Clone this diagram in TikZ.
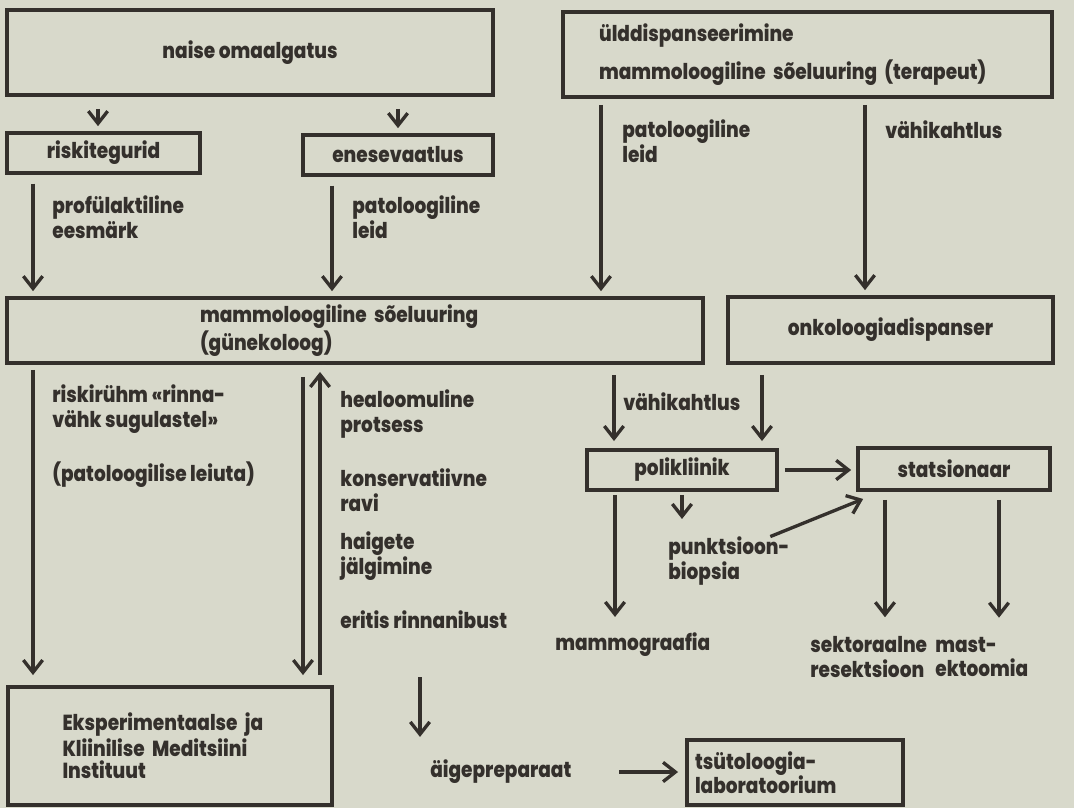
\documentclass[tikz,border=0pt]{standalone}
\usepackage{fontspec}
\setmainfont{Poppins}[BoldFont={Poppins ExtraBold}, BoldFeatures={FakeStretch=0.85}]
\usetikzlibrary{arrows.meta}
\definecolor{paper}{RGB}{216,217,203}
\definecolor{ink}{RGB}{52,48,44}

\begin{document}
\begin{tikzpicture}[x=0.02cm, y=-0.02cm,
    box/.style={draw=ink, line width=2.2pt, text=ink, inner sep=0pt, align=center},
    lbl/.style={text=ink, inner sep=0pt, anchor=west, align=left},
    arr/.style={-{Straight Barb[length=7pt,width=11pt]}, draw=ink, line width=1.9pt},
    font=\bfseries\fontsize{12.4}{14}\selectfont]
  \fill[paper] (0,0) rectangle (1074,808);
  \useasboundingbox (0,0) rectangle (1074,808);

  % boxes
  \node[box, minimum width=9.72cm, minimum height=1.7cm] (naise) at (250,52.5) {naise omaalgatus};
  \node[box, minimum width=3.86cm, minimum height=0.8cm] (riski) at (103.5,153) {riskitegurid};
  \node[box, minimum width=3.8cm, minimum height=0.8cm] (enese) at (398,155) {enesevaatlus};
  \node[box, minimum height=1.7cm, text width=8.34cm, inner xsep=0.72cm, align=left] (yld) at (807.5,54.5) {ülddispanseerimine\\[6pt]mammoloogiline sõeluuring (terapeut)};
  \node[box, minimum height=1.3cm, text width=6.2cm, inner xsep=3.86cm, align=left] (mammo) at (355,330.5) {mammoloogiline sõeluuring\\(günekoloog)};
  \node[box, minimum width=6.5cm, minimum height=1.32cm] (onko) at (890.5,330) {onkoloogiadispanser};
  \node[box, minimum width=3.8cm, minimum height=0.8cm] (polik) at (682,470) {polikliinik};
  \node[box, minimum width=3.84cm, minimum height=0.84cm] (stats) at (954,469) {statsionaar};
  \node[box, minimum height=2.36cm, text width=4.3cm, inner xsep=1.09cm, align=left, font=\bfseries\fontsize{12.4}{12.8}\selectfont] (eksp) at (170,746) {Eksperimentaalse ja\\Kliinilise Meditsiini\\Instituut};
  \node[box, minimum height=1.3cm, text width=4cm, inner xsep=0.16cm, align=left] (tsyt) at (795,772.5) {tsütoloogia-\\laboratoorium};

  % labels
  \node[lbl] (profyl) at (52,217) {profülaktiline\\eesmärk};
  \node[lbl] (patol) at (352,217) {patoloogiline\\leid};
  \node[lbl] (patol2) at (622,141) {patoloogiline\\leid};
  \node[lbl] (kahtl) at (885,130) {vähikahtlus};
  \node[lbl] (risk) at (52,409) {riskirühm «rinna-\\vähk sugulastel»};
  \node[lbl] (leiuta) at (52,475) {(patoloogilise leiuta)};
  \node[lbl] (healo) at (340,414) {healoomuline\\protsess};
  \node[lbl] (konserv) at (340,490) {konservatiivne\\ravi};
  \node[lbl] (jalg) at (340,556) {haigete\\jälgimine};
  \node[lbl] (nibu) at (340,620) {eritis rinnanibust};
  \node[lbl] (kahtl2) at (623,402) {vähikahtlus};
  \node[lbl] (punkt) at (668,561) {punktsioon-\\biopsia};
  \node[lbl] (mgraaf) at (555,645) {mammograafia};
  \node[lbl] (sektor) at (810,657) {sektoraalne\\resektsioon};
  \node[lbl] (mast) at (935,657) {mast-\\ektoomia};
  \node[lbl] (aige) at (430,772) {äigepreparaat};

  % arrows
  \draw[arr, shorten <=6.8pt, shorten >=2.8pt] (naise.south -| 98,0) -- (riski.north -| 98,0);
  \draw[arr, shorten <=6.8pt, shorten >=2.8pt] (naise.south -| 398,0) -- (enese.north -| 398,0);
  \draw[arr, shorten <=5pt, shorten >=2.8pt] (riski.south -| 33,0) -- (mammo.north -| 33,0);
  \draw[arr, shorten <=5pt, shorten >=2.8pt] (enese.south -| 332,0) -- (mammo.north -| 332,0);
  \draw[arr, shorten <=3.4pt, shorten >=2.8pt] (yld.south -| 601,0) -- (mammo.north -| 601,0);
  \draw[arr, shorten <=3.4pt, shorten >=2.8pt] (yld.south -| 865,0) -- (onko.north -| 865,0);
  \draw[arr, shorten <=2.8pt, shorten >=5.7pt] (mammo.south -| 33,0) -- (eksp.north -| 33,0);
  \draw[arr, shorten <=6.8pt, shorten >=5.7pt] (mammo.south -| 303,0) -- (eksp.north -| 303,0);
  \draw[arr, shorten <=5.7pt, shorten >=4pt] (eksp.north -| 320,0) -- (mammo.south -| 320,0);
  \draw[arr, shorten <=5.7pt, shorten >=4pt] (mammo.south -| 614,0) -- (polik.north -| 614,0);
  \draw[arr, shorten <=5.7pt, shorten >=4pt] (onko.south -| 762,0) -- (polik.north -| 762,0);
  \draw[arr, shorten <=3.4pt, shorten >=2.8pt] (polik.east) -- (stats.west |- polik.east);
  \draw[arr, shorten <=1.7pt, shorten >=10pt] (polik.south) -- (punkt.north -| polik.south);
  \draw[arr] ([xshift=-11pt]punkt.north east) -- ([xshift=4pt,yshift=-4pt]stats.south west);
  \draw[arr, shorten <=1.7pt, shorten >=9pt] (polik.south -| 615,0) -- (mgraaf.north -| 615,0);
  \draw[arr, shorten <=4.5pt, shorten >=10.8pt] (stats.south -| 885,0) -- (sektor.north -| 885,0);
  \draw[arr, shorten <=4.5pt, shorten >=10.8pt] (stats.south -| 999,0) -- (mast.north -| 999,0);
  \coordinate (aigetail) at (420,677);
  \draw[arr, shorten >=13pt] (aigetail) -- (aige.north -| aigetail);
  \draw[arr, shorten <=27pt, shorten >=4pt] (aige.east) -- (tsyt.west |- aige.east);
\end{tikzpicture}
\end{document}
